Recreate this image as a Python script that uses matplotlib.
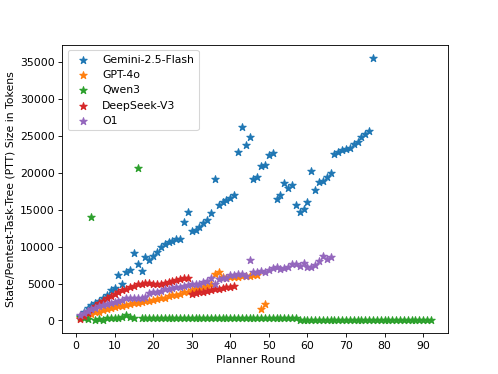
import matplotlib
matplotlib.use('Agg')
import matplotlib.pyplot as plt

# Planner round vs PTT size
gemini = [600, 1200, 1700, 2100, 2300, 2600, 3000, 3500, 4100, 4400,
          6100, 5000, 6600, 6900, 9100, 7700, 6700, 8600, 8200, 8700,
          9300, 9900, 10400, 10600, 10800, 11000, 11000, 13300, 14700, 12100,
          12200, 12600, 13200, 13600, 14500, 19100, 15700, 16100, 16300, 16600,
          17000, 22800, 26200, 23800, 24900, 19200, 19500, 20900, 21000, 22400,
          22700, 16500, 17000, 18600, 17900, 18300, 15600, 14700, 15100, 16100,
          20200, 17700, 18800, 18900, 19400, 20000, 22600, 22800, 23100, 23200,
          23300, 23900, 24200, 24900, 25300, 25700, 35600]

gpt4o = [300, 500, 700, 900, 1100, 1200, 1400, 1500, 1700, 1800,
         1900, 2000, 2100, 2200, 2300, 2400, 2500, 2600, 2700, 2800,
         2900, 3000, 3100, 3300, 3400, 3500, 3600, 3800, 3900, 4100,
         4200, 4400, 4500, 4700, 5000, 6300, 6500, 5900, 5800, 5900,
         5900, 5900, 6000, 6000, 6000, 6100, 6100, 1500, 2200]

qwen3 = [500, 300, 200, 14000, 100, 200, 100, 300, 300, 400,
         300, 500, 700, 500, 400, 20700] + [300] * 41 + [100] * 35

deepseek = [200, 600, 1000, 1500, 1900, 2300, 2700, 3000, 3300, 3600,
            3800, 4100, 4300, 4500, 4700, 4900, 5000, 5100, 5100, 5000,
            4900, 4900, 5100, 5200, 5300, 5500, 5600, 5700, 5700, 3600,
            3700, 3800, 3900, 4000, 4100, 4200, 4300, 4400, 4500, 4600, 4700]

o1 = [700, 1000, 1300, 1500, 1700, 1900, 2100, 2200, 2400, 2500,
      2700, 2800, 3000, 3000, 3000, 3100, 3100, 3200, 3700, 3800,
      3900, 4000, 4200, 4300, 4400, 4500, 4600, 4700, 4800, 4900,
      5000, 5000, 5200, 5400, 5800, 5000, 5600, 5700, 5800, 6100,
      6200, 6300, 6300, 6000, 8200, 6500, 6600, 6700, 6600, 6800,
      7100, 7300, 7000, 7100, 7300, 7700, 7600, 7400, 7800, 7300,
      7300, 7500, 8000, 8800, 8300, 8600]

series = [('Gemini-2.5-Flash', gemini), ('GPT-4o', gpt4o), ('Qwen3', qwen3),
          ('DeepSeek-V3', deepseek), ('O1', o1)]

plt.figure(figsize=(498.3 / 78, 374.3 / 78), dpi=78)
for name, vals in series:
    plt.scatter(range(1, len(vals) + 1), vals, marker='*', s=50, label=name)

plt.xlabel('Planner Round')
plt.ylabel('State/Pentest-Task-Tree (PTT) Size in Tokens')
plt.xticks(range(0, 100, 10))
plt.legend(loc='upper left')
plt.savefig('out.png', dpi=78)
